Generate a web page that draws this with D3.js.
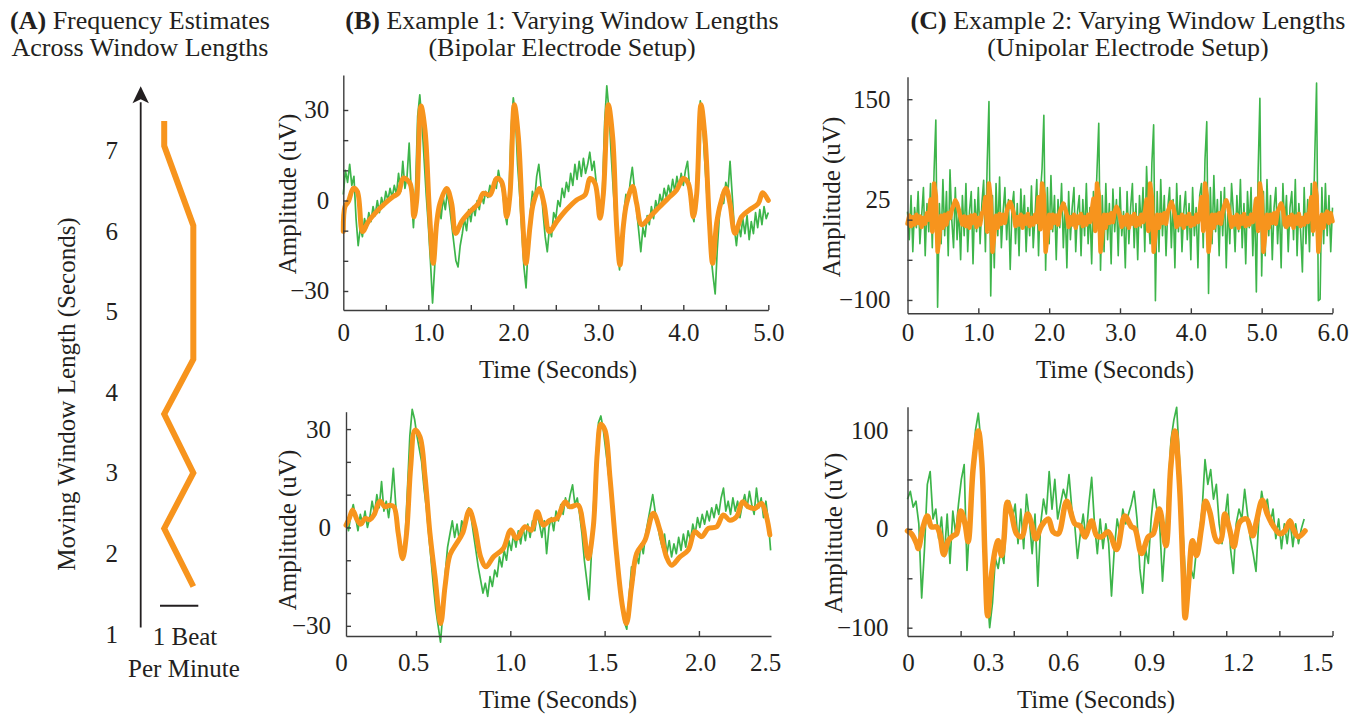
<!DOCTYPE html>
<html>
<head>
<meta charset="utf-8">
<script src="https://cdn.jsdelivr.net/npm/d3@7"></script>
<style>
  body { margin: 0; background: #fff; }
  svg { display: block; }
</style>
</head>
<body>
<svg id="fig" width="1366" height="715"></svg>
<script>
// ---------- panel A : frequency estimate per window length ----------
const aWindow = [7.37, 7.06, 6.07, 4.41, 3.73, 3.00, 2.31, 1.59];   // seconds
const aFreq   = [0.11, 0.11, 0.87, 0.87, 0.11, 0.87, 0.11, 0.87];   // beats per minute (relative)
const aTicks  = [1, 2, 3, 4, 5, 6, 7];
const aBarAt  = 1.35;   // window length where the 1 bpm scale bar sits

// ---------- panel B top : bipolar, 5 s ----------
const b1Dt = 0.025;
const b1Green = [
  2,10,6,12,5,8,-6,-15,-9,-12, -6,-9,-4,-7,-2,-5,0,-4,1,-2,
  3,0,4,1,5,2,9,3,13,4, 8,19,2,-9,4,28,35,26,14,2,
  -8,-20,-34,-22,-6,-1,-6,1,-3,3, -2,-8,-14,-20,-22,-15,-11,-6,-10,-3,
  -7,-2,-5,0,-3,2,-1,3,1,5, 2,7,4,10,6,3,-4,-8,2,24,
  34,28,12,2,-10,-22,-29,-15,-4,3, 0,8,12,5,-4,-12,-17,-9,-12,-4,
  -6,0,-2,4,1,6,3,9,5,12, 7,13,8,14,9,12,16,10,13,6,
  1,-6,4,26,38,30,16,4,-6,-16, -23,-12,-4,2,-1,6,11,4,-3,-10,
  -17,-9,-12,-5,-8,-2,-6,0,-3,2, -1,4,1,5,2,7,3,8,4,9,
  5,10,13,4,-4,-7,3,22,33,27, 14,3,-8,-18,-25,-31,-16,-5,2,-1,
  6,3,13,2,-9,-15,-8,-12,-6,-11, -5,-13,-7,-11,-4,-9,-3,-8,-2,-6,
  -4];
const b1OrangeT = [0,0.020,0.059,0.118,0.165,0.227,0.294,0.392,0.490,0.588,
  0.647,0.706,0.784,0.831,0.863,0.914,0.961,1.012,1.059,1.098,
  1.137,1.216,1.275,1.322,1.392,1.490,1.588,1.647,1.725,1.804,
  1.863,1.922,1.961,2.012,2.059,2.110,2.149,2.196,2.235,2.306,
  2.361,2.424,2.510,2.627,2.745,2.843,2.902,2.961,3.020,3.059,
  3.118,3.169,3.216,3.255,3.294,3.333,3.404,3.451,3.510,3.608,
  3.725,3.843,3.922,4.000,4.059,4.118,4.157,4.208,4.255,4.306,
  4.345,4.392,4.439,4.502,4.549,4.608,4.686,4.784,4.882,4.933,5.000];
const b1OrangeV = [-10.3,-2,-0.4,4,3,-10.3,-7,-3.7,-1,1.3,
  2.4,7.4,5.7,-5.4,0,31.3,23.4,-3,-20.8,-7.6,
  -1,4,-1,-10.9,-7,-3.7,-1,2.4,1.8,7.3,
  6.2,-5.4,2,31.7,21.2,-6.5,-20.8,-8.7,-1,4,
  -1,-10.3,-7,-3,0.2,1.8,7.3,5.7,-5.9,2,
  31.7,21,-8.7,-21.4,-8.7,-1,4.6,-1,-8,-5.4,
  -2,1.3,3.5,7.3,5.7,-5.4,2,31.7,21,-6.5,
  -20.8,-7.6,-1,4,-1,-10.9,-5.4,-3,-1,2.6,0];

// ---------- panel B bottom : bipolar, 2.5 s ----------
const b2T0 = 0.13, b2Dt = 0.0125;
const b2Green = [
  2,-1,4,7,3,-1,4,1,5,0, 3,8,4,10,6,14,5,8,3,9,
  18,7,-2,-8,-10,-3,12,28,36,33, 28,24,20,12,6,-2,-10,-18,-25,-30,
  -35,-26,-14,-6,-2,2,-3,1,-4,2, 0,4,6,3,-2,-7,-12,-16,-20,-17,
  -21,-15,-18,-13,-15,-9,-12,-7,-10,-4, -7,-2,-6,-1,-5,0,-4,1,-3,2,
  -1,4,1,-3,2,-8,0,3,-1,5, 2,7,4,9,6,10,13,7,9,4,
  -2,-10,-16,-22,-8,8,22,32,34,30, 24,18,12,5,-3,-10,-18,-24,-29,-31,
  -21,-12,-16,-8,-11,-5,-8,-2,2,6, 10,5,1,-3,-6,-2,-8,-4,-9,-5,
  -8,-3,-7,-2,-6,-1,-4,1,-2,3, 0,4,1,5,2,6,3,7,4,9,
  12,5,8,4,9,5,8,3,7,10, 6,11,7,4,12,6,9,3,8,2,
  -7];
const b2OrangeT = [0.129,0.146,0.164,0.189,0.207,0.230,0.256,0.277,0.309,0.335,
  0.362,0.383,0.406,0.429,0.450,0.472,0.495,0.521,0.548,0.574,
  0.601,0.631,0.654,0.680,0.715,0.747,0.783,0.812,0.843,0.871,
  0.910,0.963,1.002,1.033,1.078,1.113,1.143,1.175,1.210,1.246,
  1.290,1.316,1.360,1.387,1.413,1.440,1.461,1.480,1.502,1.528,
  1.563,1.595,1.616,1.643,1.670,1.714,1.758,1.793,1.828,1.855,
  1.899,1.943,1.979,2.014,2.050,2.094,2.129,2.164,2.200,2.231,
  2.261,2.297,2.332,2.358,2.376];
const b2OrangeV = [0.7,2.7,5.3,2.2,1,2.7,2.4,3.8,8,6.3,
  6.8,6.3,-1.8,-9.5,-1.8,18.5,29.7,27.7,15.5,-1.8,
  -15,-29.3,-18,-8.4,-4.9,-1.8,5.3,0.2,-9,-12,
  -9,-6.4,-0.8,-3.4,0.2,-0.8,4.8,0.7,2.2,2.7,
  7.8,6.3,6.8,0.2,-9.5,0.2,22.6,31.5,29.7,15.5,
  -7.9,-24.2,-29.3,-18,-7.9,-3.9,4.3,-0.8,-9,-11.5,
  -9,-6.9,-1.3,-2.8,-0.3,0.2,3.8,2.2,3.3,7.8,
  6.3,5.8,7.3,3.3,-2.3];

// ---------- panel C top : unipolar, 6 s ----------
const c1Dt = 0.025;
const c1Green = [
  10,-25,30,-40,15,-10,35,-30,5,40, -45,20,-15,45,-35,60,124,-109,20,-30,
  50,-20,35,-45,62,0,-35,40,-25,15, -50,30,-20,45,-40,10,35,-55,25,-15,
  40,-30,20,49,-40,70,147,-95,30,-60, 45,-20,53,-35,10,40,-25,25,-62,15,
  35,-30,20,-45,38,-10,30,-40,15,-20, 42,-35,5,50,-45,30,64,130,-63,40,
  -30,55,-15,30,-50,25,-10,45,-35,20, -60,35,-25,15,40,-40,10,30,-45,25,
  -20,45,-30,15,-55,35,0,60,120,-63, 30,-40,45,-25,20,-55,38,-15,25,-45,
  40,-20,10,-60,35,-30,15,45,-35,20, -50,30,-10,40,-40,66,5,-30,70,118,
  -101,35,-40,50,-20,30,-45,15,40,-35, 25,-60,45,-15,30,-40,10,35,-25,20,
  -50,40,-20,15,-60,30,45,-35,75,122, -92,40,-30,55,-15,25,-45,35,-20,40,
  -60,20,-30,45,10,-40,30,-15,50,-35, 20,-55,35,-10,40,-45,25,-90,60,151,
  -70,35,-45,50,-20,30,-50,15,40,-30, 20,-60,45,-10,30,-40,15,35,-25,50,
  -45,20,-15,-65,40,-30,25,-40,45,-20, 80,170,-101,-99,40,-30,45,-20,30,-40,
  15];
const c1Orange = [
  -5,5,-8,3,-6,6,-4,4,-9,2, -5,8,0,25,-15,45,30,-40,-20,5,
  -10,6,-6,8,2,12,18,24,20,12, 2,-6,4,-8,3,-10,5,-4,6,-9,
  2,-6,8,10,28,-15,45,25,-40,-18, 5,-10,7,-5,6,-4,10,18,22,16,
  8,-8,3,-6,6,-10,4,-5,7,-8, 2,-6,6,-3,28,-12,45,30,-40,-20,
  6,-10,6,-4,5,-6,9,15,20,14, 6,-9,3,-6,6,-10,4,-4,7,-8,
  3,-6,6,-3,10,26,-14,45,30,-40, -18,6,-10,6,-4,8,-3,10,16,12,
  4,-9,3,-6,6,-10,4,-5,7,-8, 2,-6,6,-3,8,25,-14,45,28,-40,
  -18,6,-10,6,-4,8,-5,10,16,22, 16,6,-9,3,-6,6,-10,4,-5,7,
  -8,2,-6,6,-3,10,28,-14,45,30, -40,-18,6,-10,6,-4,8,-5,10,18,
  24,18,5,-9,3,-6,6,-10,4,-5, 7,-8,2,-6,6,-3,10,26,-14,45,
  30,-40,-18,6,-10,6,-4,8,-5,10, 15,20,14,-6,-9,3,-6,6,-10,4,
  -5,7,-8,2,-6,6,-3,10,28,-14, 45,30,-40,-18,6,-10,6,10,-4,8,
  -2];

// ---------- panel C bottom : unipolar, 1.5 s ----------
const c2Dt = 0.01;
const c2Green = [
  30,38,22,28,5,-70,-20,45,58,10, 20,-10,12,-28,15,-35,18,-5,25,50,
  65,-42,10,60,100,117,85,20,-60,-100, -75,-30,-40,-20,-35,15,28,10,25,-15,
  20,-20,35,10,-25,15,-58,5,30,15, 58,20,50,10,25,40,30,55,20,5,
  -30,-5,15,-10,25,52,5,-25,10,-20, 5,-15,-68,-20,10,-5,20,5,15,25,
  38,10,-40,-65,-20,-35,10,40,20,5, -53,-10,40,90,110,123,70,10,-45,-70,
  -40,-50,-20,-5,20,70,45,60,30,45, 5,-15,10,35,-20,-45,5,20,10,40,
  15,-10,-25,-43,10,38,20,30,5,20, -10,10,-20,5,-15,10,-18,5,-15,0,
  10];
const c2OrangeT = [0.000,0.014,0.032,0.038,0.055,0.070,0.085,0.103,0.114,0.128,
  0.144,0.161,0.173,0.188,0.203,0.214,0.232,0.250,0.262,0.273,
  0.283,0.297,0.312,0.320,0.332,0.340,0.352,0.367,0.385,0.403,
  0.424,0.438,0.453,0.473,0.497,0.514,0.532,0.562,0.591,0.609,
  0.626,0.650,0.668,0.685,0.709,0.738,0.767,0.791,0.803,0.826,
  0.850,0.867,0.889,0.912,0.929,0.944,0.959,0.973,0.980,0.991,
  1.006,1.020,1.038,1.052,1.067,1.091,1.105,1.120,1.138,1.152,
  1.173,1.197,1.218,1.232,1.252,1.270,1.291,1.314,1.332,1.350,
  1.361,1.379,1.403];
const c2OrangeV = [-2,-5,-15,-20,2,13,2,2,-5,-26,
  -12,-7,-5,18,5,-13,62,99,69,-25,
  -88,-45,-18,-12,-27,-12,27,15,-5,-8,
  15,5,-10,3,10,-3,-5,28,5,3,
  -8,8,-7,-8,-3,-21,13,2,0,-25,
  -8,-5,20,-17,62,99,49,-45,-90,-58,
  -12,-27,2,28,17,-12,-12,15,-2,-18,
  7,10,-7,8,29,15,3,-5,-2,8,
  0,-8,-2];

// ---------- drawing ----------
const FONT = "'Liberation Serif','Times New Roman',serif";
const INK = "#231f20", AXIS = "#3d3d3d";
const GREEN = "#3db54a", ORANGE = "#f7941d";

const svg = d3.select("#fig").style("font-family", FONT);

function sample(values, t0, dt) {
  return values.map((v, i) => [t0 + i * dt, v]);
}

const fmtTime = d => d === 0 ? "0" : d3.format(".1f")(d);
const fmtAmp = d3.format("d");

function styleAxis(sel) {
  sel.selectAll("path, line").attr("stroke", AXIS).attr("stroke-width", 1.4);
}
function styleLabels(sel) {
  sel.select(".domain").remove();
  sel.selectAll("text").attr("font-family", FONT).attr("font-size", 25).attr("fill", INK);
}

function drawSignal(p) {
  const g = svg.append("g");
  const x = d3.scaleLinear().domain(p.xDomain).range(p.xRange);
  const y = d3.scaleLinear().domain(p.yDomain).range(p.yRange);
  const bottom = p.yRange[0], left = p.xRange[0];

  const greenLine = d3.line().x(d => x(d[0])).y(d => y(d[1]));
  g.append("path").datum(p.green)
    .attr("fill", "none").attr("stroke", GREEN).attr("stroke-width", p.greenWidth)
    .attr("stroke-linejoin", "round")
    .attr("d", greenLine);

  const orangeLine = d3.line().curve(p.curve).x(d => x(d[0])).y(d => y(d[1]));
  g.append("path").datum(p.orange)
    .attr("fill", "none").attr("stroke", ORANGE).attr("stroke-width", p.orangeWidth)
    .attr("stroke-linejoin", "round").attr("stroke-linecap", "round")
    .attr("d", orangeLine);

  // axes with inward ticks
  g.append("g").attr("transform", `translate(0,${bottom})`)
    .call(d3.axisBottom(x).tickValues(p.xTicks).tickSizeInner(-5).tickSizeOuter(0).tickFormat(""))
    .call(styleAxis);
  g.append("g").attr("transform", `translate(${left},0)`)
    .call(d3.axisLeft(y).tickValues(p.yTicks).tickSizeInner(-5).tickSizeOuter(0).tickFormat(""))
    .call(styleAxis);

  // tick labels
  const xl = p.xLabelScale || x;
  g.append("g").attr("transform", `translate(0,${bottom})`)
    .call(d3.axisBottom(xl).tickValues(p.xLabels).tickSize(0).tickPadding(p.xPad).tickFormat(fmtTime))
    .call(styleLabels);
  g.append("g").attr("transform", `translate(${left},0)`)
    .call(d3.axisLeft(y).tickValues(p.yLabels).tickSize(0).tickPadding(p.yPad).tickFormat(fmtAmp))
    .call(styleLabels);

  // axis titles
  g.append("text").attr("x", p.xTitle[0]).attr("y", p.xTitle[1])
    .attr("text-anchor", "middle").attr("font-size", 25).attr("fill", INK)
    .text("Time (Seconds)");
  g.append("text").attr("transform", `translate(${p.yTitle[0]},${p.yTitle[1]}) rotate(-90)`)
    .attr("text-anchor", "middle").attr("font-size", 25).attr("fill", INK)
    .text("Amplitude (uV)");
}

// B top
drawSignal({
  xDomain: [0, 5], xRange: [343.3, 768.3],
  yDomain: [-36.3, 41.6], yRange: [310, 75],
  green: sample(b1Green, 0, b1Dt), orange: d3.zip(b1OrangeT, b1OrangeV),
  curve: d3.curveCatmullRom.alpha(0.5), orangeWidth: 5, greenWidth: 1.7,
  xTicks: [0.5, 1, 1.5, 2, 2.5, 3, 3.5, 4, 4.5, 5], xLabels: [0, 1, 2, 3, 4, 5], xPad: 13,
  yTicks: [-30, -20, -10, 0, 10, 20, 30], yLabels: [30, 0, -30], yPad: 14,
  xTitle: [558, 378], yTitle: [296, 194]
});

// B bottom (end labels sit at the ends of the drawn axis)
drawSignal({
  xDomain: [0.129, 2.382], xRange: [346, 771],
  yDomain: [-33.1, 35.3], yRange: [636, 411.7],
  green: sample(b2Green, b2T0, b2Dt), orange: d3.zip(b2OrangeT, b2OrangeV),
  curve: d3.curveCatmullRom.alpha(0.5), orangeWidth: 5, greenWidth: 1.7,
  xTicks: [0.5, 1, 1.5, 2],
  xLabelScale: d3.scaleLinear().domain([0, 0.5, 1, 1.5, 2, 2.5]).range([341, 413, 510, 602, 700, 765]),
  xLabels: [0, 0.5, 1, 1.5, 2, 2.5], xPad: 17,
  yTicks: [-30, -20, -10, 0, 10, 20, 30], yLabels: [30, 0, -30], yPad: 15,
  xTitle: [558, 708], yTitle: [296, 530]
});

// C top
drawSignal({
  xDomain: [0, 6], xRange: [907.5, 1332.5],
  yDomain: [-116.6, 178], yRange: [313.3, 76.7],
  green: sample(c1Green, 0, c1Dt), orange: sample(c1Orange, 0, c1Dt),
  curve: d3.curveLinear, orangeWidth: 4.5, greenWidth: 1.6,
  xTicks: [1, 2, 3, 4, 5, 6], xLabels: [0, 1, 2, 3, 4, 5, 6], xPad: 10,
  yTicks: [-100, -50, 0, 50, 100, 150], yLabels: [150, 25, -100], yPad: 17,
  xTitle: [1115, 378], yTitle: [840, 197]
});

// C bottom
drawSignal({
  xDomain: [0, 1.5], xRange: [907.5, 1332.5],
  yDomain: [-108.4, 123.6], yRange: [636, 406.7],
  green: sample(c2Green, 0, c2Dt), orange: d3.zip(c2OrangeT, c2OrangeV),
  curve: d3.curveCatmullRom.alpha(0.5), orangeWidth: 5.5, greenWidth: 1.7,
  xTicks: [0.1875, 0.375, 0.5625, 0.75, 0.9375, 1.125, 1.3125, 1.5],
  xLabelScale: d3.scaleLinear().domain([0, 0.3, 0.6, 0.9, 1.2, 1.5]).range([908, 988, 1063, 1149, 1238, 1317]),
  xLabels: [0, 0.3, 0.6, 0.9, 1.2, 1.5], xPad: 17,
  yTicks: [-100, -50, 0, 50, 100], yLabels: [100, 0, -100], yPad: 19,
  xTitle: [1096, 708], yTitle: [842, 533]
});

// ---------- panel A ----------
const aY = d3.scaleLinear().domain([1, 7]).range([634, 150.7]);
const aX = d3.scaleLinear().domain([0, 1]).range([160, 198.3]);
const gA = svg.append("g");

gA.append("line")
  .attr("x1", 140.7).attr("x2", 140.7)
  .attr("y1", aY(1.08)).attr("y2", aY(7.6))
  .attr("stroke", INK).attr("stroke-width", 1.8);
gA.append("path")
  .attr("d", `M140.7,${aY(7.8)} L132.5,${aY(7.59)} L140.7,${aY(7.64)} L148.9,${aY(7.59)} Z`)
  .attr("fill", INK);

gA.append("g").attr("transform", "translate(121,0)")
  .call(d3.axisLeft(aY).tickValues(aTicks).tickSize(0).tickPadding(3).tickFormat(d3.format("d")))
  .call(styleLabels);

gA.append("path").datum(d3.zip(aWindow, aFreq))
  .attr("fill", "none").attr("stroke", ORANGE).attr("stroke-width", 6)
  .attr("stroke-linejoin", "miter")
  .attr("d", d3.line().x(d => aX(d[1])).y(d => aY(d[0])));

gA.append("line")
  .attr("x1", aX(0)).attr("x2", aX(1))
  .attr("y1", aY(aBarAt)).attr("y2", aY(aBarAt))
  .attr("stroke", INK).attr("stroke-width", 2);

gA.append("text").attr("x", 185).attr("y", 645).attr("text-anchor", "middle")
  .attr("font-size", 25).attr("fill", INK).text("1 Beat");
gA.append("text").attr("x", 184).attr("y", 677).attr("text-anchor", "middle")
  .attr("font-size", 25).attr("fill", INK).text("Per Minute");
gA.append("text").attr("transform", "translate(74.5,394) rotate(-90)")
  .attr("text-anchor", "middle").attr("font-size", 25).attr("fill", INK)
  .text("Moving Window Length (Seconds)");

// ---------- titles ----------
function title(cx, tag, line1, line2) {
  const t = svg.append("text").attr("x", cx).attr("y", 29)
    .attr("text-anchor", "middle").attr("font-size", 26).attr("fill", INK);
  t.append("tspan").attr("font-weight", "bold").text(tag);
  t.append("tspan").text(" " + line1);
  svg.append("text").attr("x", cx).attr("y", 56)
    .attr("text-anchor", "middle").attr("font-size", 26).attr("fill", INK)
    .text(line2);
}
title(140, "(A)", "Frequency Estimates", "Across Window Lengths");
title(562, "(B)", "Example 1: Varying Window Lengths", "(Bipolar Electrode Setup)");
title(1128, "(C)", "Example 2: Varying Window Lengths", "(Unipolar Electrode Setup)");
</script>
</body>
</html>
